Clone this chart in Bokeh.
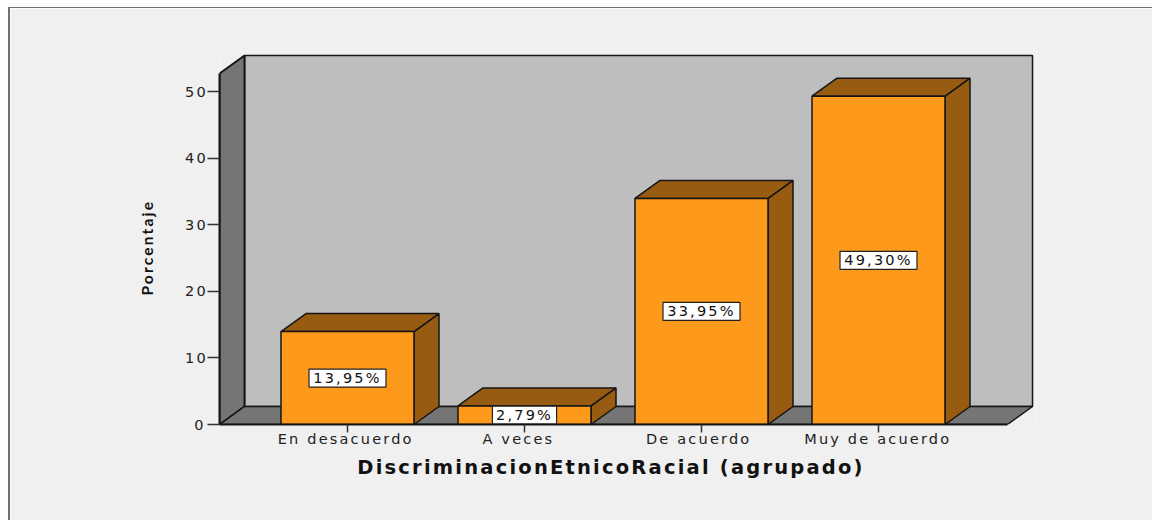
from bokeh.plotting import figure
from bokeh.models import Label, FixedTicker
from bokeh.embed import file_html
from bokeh.resources import INLINE

categories = ["En desacuerdo", "A veces", "De acuerdo", "Muy de acuerdo"]
values = [13.95, 2.79, 33.95, 49.30]
value_labels = ["13,95%", "2,79%", "33,95%", "49,30%"]
y_ticks = [0, 10, 20, 30, 40, 50]
x_title = "DiscriminacionEtnicoRacial (agrupado)"
y_title = "Porcentaje"

FRONT, TOP, WALL, FLOOR, EDGE, BG = "#FD9A1C", "#975C12", "#BEBEBE", "#757575", "#151515", "#F0F0F0"
HALF = 66.5 / 177
DX, DY = 25 / 177, 18 / 6.66
XL, XR = -128 / 177, 660 / 177
YTOP = 52.7
SPACING = 2.2
NBSP = "\u00a0"   # trailing padding re-centres letter-spaced text, whose spacing is not measured
tick_pad = [7, 6, 6, 7]

p = figure(width=1144, height=513, output_backend="svg", toolbar_location=None,
           x_range=(-128 / 177, 689 / 177), y_range=(0, 373 / 6.66),
           min_border_left=209, min_border_right=118, min_border_top=43, min_border_bottom=97,
           background_fill_color=BG, border_fill_color=BG, outline_line_color=None)
p.styles = {"margin-left": "8px", "margin-top": "7px",
            "border-left": "2px solid #707070", "border-top": "1px solid #707070",
            "letter-spacing": f"{SPACING}px"}
p.grid.visible = False

# walls and floor
p.patch([XL + DX, XR + DX, XR + DX, XL + DX], [DY, DY, YTOP + DY, YTOP + DY],
        fill_color=WALL, line_color=EDGE, line_width=1.5)
p.patch([XL, XL + DX, XL + DX, XL], [0, DY, YTOP + DY, YTOP],
        fill_color=FLOOR, line_color=EDGE, line_width=2)
p.patch([XL, XR, XR + DX, XL + DX], [0, 0, DY, DY],
        fill_color=FLOOR, line_color=EDGE, line_width=1.5)

# bars
for i, v in enumerate(values):
    l, r = i - HALF, i + HALF
    txt = value_labels[i]
    p.patch([r, r + DX, r + DX, r], [0, DY, v + DY, v], fill_color=TOP, line_color=EDGE, line_width=1.5)
    p.patch([l, l + DX, r + DX, r], [v, v + DY, v + DY, v], fill_color=TOP, line_color=EDGE, line_width=1.5)
    p.quad(left=l, right=r, bottom=0, top=v, fill_color=FRONT, line_color=EDGE, line_width=1.5)
    p.rect(x=i, y=v / 2, width=12.83 * len(txt), height=18, width_units="screen", height_units="screen",
           fill_color="white", line_color="#222222", line_width=1.2)
    p.add_layout(Label(x=i, y=v / 2, text=txt, text_align="center", text_baseline="middle",
                       x_offset=-SPACING * len(txt) / 2,
                       text_font="DejaVu Sans", text_font_size="14.5px", text_color="#111111"))

xa, ya = p.xaxis[0], p.yaxis[0]
xa.ticker = FixedTicker(ticks=list(range(len(categories))))
xa.major_label_overrides = {i: c + NBSP * n for i, (c, n) in enumerate(zip(categories, tick_pad))}
xa.bounds = (XL, XR)
ya.ticker = FixedTicker(ticks=y_ticks)
ya.bounds = (0, YTOP)
for a in (xa, ya):
    a.axis_line_color = EDGE
    a.axis_line_width = 2
    a.major_tick_line_color = "#333333"
    a.major_tick_line_width = 1.5
    a.major_tick_in = 0
    a.minor_tick_line_color = None
    a.major_label_text_font = "DejaVu Sans"
    a.major_label_text_font_size = "14.5px"
    a.major_label_text_color = "#222222"
xa.major_tick_out = 8
ya.major_tick_out = 12
xa.major_label_standoff = -2
ya.major_label_standoff = 4
xa.axis_label = x_title + NBSP * 17
xa.axis_label_text_font = "DejaVu Sans"
xa.axis_label_text_font_style = "bold"
xa.axis_label_text_font_size = "19.5px"
xa.axis_label_text_color = "#111111"
xa.axis_label_standoff = 6
ya.axis_label = y_title + NBSP * 11
ya.axis_label_text_font = "Lato"
ya.axis_label_text_font_style = "bold"
ya.axis_label_text_font_size = "15.5px"
ya.axis_label_text_color = "#111111"
ya.axis_label_standoff = 26

open("out.html", "w").write(file_html(p, INLINE))
